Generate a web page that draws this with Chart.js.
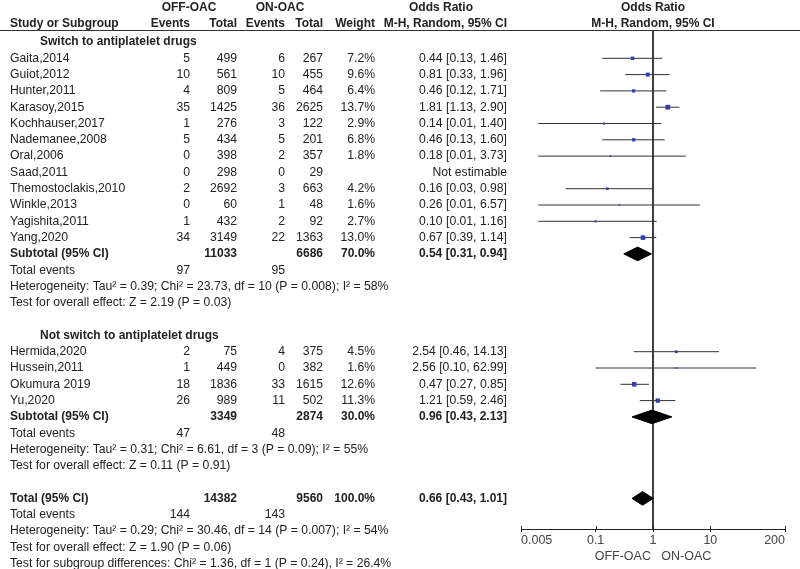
<!DOCTYPE html>
<html>
<head>
<meta charset="utf-8">
<script src="https://cdn.jsdelivr.net/npm/chart.js@4.4.1/dist/chart.umd.min.js"></script>
<style>
  html, body { margin: 0; padding: 0; background: #fff; }
  #wrap { position: relative; width: 800px; height: 569px; }
</style>
</head>
<body>
<div id="wrap"><canvas id="chart"></canvas></div>
<script>
// Individual studies
const studyNames = [
    'Gaita,2014', 'Guiot,2012', 'Hunter,2011', 'Karasoy,2015', 'Kochhauser,2017',
    'Nademanee,2008', 'Oral,2006', 'Saad,2011', 'Themostoclakis,2010', 'Winkle,2013',
    'Yagishita,2011', 'Yang,2020',
    'Hermida,2020', 'Hussein,2011', 'Okumura 2019', 'Yu,2020'
];
const studyGroup = [0, 0, 0, 0, 0, 0, 0, 0, 0, 0, 0, 0, 1, 1, 1, 1];
const offEvents = [5, 10, 4, 35, 1, 5, 0, 0, 2, 0, 1, 34, 2, 1, 18, 26];
const offTotals = [499, 561, 809, 1425, 276, 434, 398, 298, 2692, 60, 432, 3149, 75, 449, 1836, 989];
const onEvents = [6, 10, 5, 36, 3, 5, 2, 0, 3, 1, 2, 22, 4, 0, 33, 11];
const onTotals = [267, 455, 464, 2625, 122, 201, 357, 29, 663, 48, 92, 1363, 375, 382, 1615, 502];
const weights = [7.2, 9.6, 6.4, 13.7, 2.9, 6.8, 1.8, null, 4.2, 1.6, 2.7, 13.0, 4.5, 1.6, 12.6, 11.3];
const oddsRatios = [0.44, 0.81, 0.46, 1.81, 0.14, 0.46, 0.18, null, 0.16, 0.26, 0.10, 0.67, 2.54, 2.56, 0.47, 1.21];
const ciLower = [0.13, 0.33, 0.12, 1.13, 0.01, 0.13, 0.01, null, 0.03, 0.01, 0.01, 0.39, 0.46, 0.10, 0.27, 0.59];
const ciUpper = [1.46, 1.96, 1.71, 2.90, 1.40, 1.60, 3.73, null, 0.98, 6.57, 1.16, 1.14, 14.13, 62.99, 0.85, 2.46];

// Subgroups
const subgroupNames = ['Switch to antiplatelet drugs', 'Not switch to antiplatelet drugs'];
const subgroupOffTotals = [11033, 3349];
const subgroupOnTotals = [6686, 2874];
const subgroupWeights = [70.0, 30.0];
const subgroupOR = [0.54, 0.96];
const subgroupLower = [0.31, 0.43];
const subgroupUpper = [0.94, 2.13];
const subgroupOffEvents = [97, 47];
const subgroupOnEvents = [95, 48];
const subgroupHeterogeneity = [
    'Heterogeneity: Tau² = 0.39; Chi² = 23.73, df = 10 (P = 0.008); I² = 58%',
    'Heterogeneity: Tau² = 0.31; Chi² = 6.61, df = 3 (P = 0.09); I² = 55%'
];
const subgroupEffect = [
    'Test for overall effect: Z = 2.19 (P = 0.03)',
    'Test for overall effect: Z = 0.11 (P = 0.91)'
];

// Overall
const totalOffTotal = 14382;
const totalOnTotal = 9560;
const totalWeight = 100.0;
const totalOR = 0.66;
const totalLower = 0.43;
const totalUpper = 1.01;
const totalOffEvents = 144;
const totalOnEvents = 143;
const totalHeterogeneity = 'Heterogeneity: Tau² = 0.29; Chi² = 30.46, df = 14 (P = 0.007); I² = 54%';
const totalEffect = 'Test for overall effect: Z = 1.90 (P = 0.06)';
const subgroupDifferences = 'Test for subgroup differences: Chi² = 1.36, df = 1 (P = 0.24), I² = 26.4%';

// Axis
const xTicks = [0.005, 0.1, 1, 10, 200];
const xTickLabels = ['0.005', '0.1', '1', '10', '200'];
const xAxisTitle = 'OFF-OAC   ON-OAC';

/**
 * Layout constants (pixels).
 */
const ROW_TOP = 42;
const ROW_H = 16.3;
const AREA_TOP = 30;
const AREA_BOTTOM = 529;
const TEXT_COLOR = '#222';
const FONT = '"Liberation Sans", Arial, sans-serif';

const COLS = {
    study: [10, 'left'],
    heading: [40, 'left'],
    offEvents: [190, 'right'],
    offTotal: [237, 'right'],
    onEvents: [285, 'right'],
    onTotal: [323, 'right'],
    weight: [375, 'right'],
    ratio: [507, 'right']
};

const fmtRatio = (or, lo, hi) => `${or.toFixed(2)} [${lo.toFixed(2)}, ${hi.toFixed(2)}]`;
const fmtWeight = w => w.toFixed(1) + '%';

// Build the table rows (row index -> texts).
const cells = [];
const studyRow = [];
const summaryRows = [];
function cell(row, text, col, bold) {
    cells.push({ row: row, text: String(text), x: COLS[col][0], align: COLS[col][1], bold: !!bold });
}

let r = 0;
subgroupNames.forEach((name, g) => {
    cell(r++, name, 'heading', true);
    studyNames.forEach((study, i) => {
        if (studyGroup[i] !== g) return;
        studyRow[i] = r;
        cell(r, study, 'study');
        cell(r, offEvents[i], 'offEvents');
        cell(r, offTotals[i], 'offTotal');
        cell(r, onEvents[i], 'onEvents');
        cell(r, onTotals[i], 'onTotal');
        if (weights[i] !== null) {
            cell(r, fmtWeight(weights[i]), 'weight');
            cell(r, fmtRatio(oddsRatios[i], ciLower[i], ciUpper[i]), 'ratio');
        } else {
            cell(r, 'Not estimable', 'ratio');
        }
        r++;
    });
    summaryRows.push({ row: r, or: subgroupOR[g], lo: subgroupLower[g], hi: subgroupUpper[g] });
    cell(r, 'Subtotal (95% CI)', 'study', true);
    cell(r, subgroupOffTotals[g], 'offTotal', true);
    cell(r, subgroupOnTotals[g], 'onTotal', true);
    cell(r, fmtWeight(subgroupWeights[g]), 'weight', true);
    cell(r, fmtRatio(subgroupOR[g], subgroupLower[g], subgroupUpper[g]), 'ratio', true);
    r++;
    cell(r, 'Total events', 'study');
    cell(r, subgroupOffEvents[g], 'offEvents');
    cell(r, subgroupOnEvents[g], 'onEvents');
    r++;
    cell(r++, subgroupHeterogeneity[g], 'study');
    cell(r++, subgroupEffect[g], 'study');
    r++;
});
summaryRows.push({ row: r, or: totalOR, lo: totalLower, hi: totalUpper });
cell(r, 'Total (95% CI)', 'study', true);
cell(r, totalOffTotal, 'offTotal', true);
cell(r, totalOnTotal, 'onTotal', true);
cell(r, fmtWeight(totalWeight), 'weight', true);
cell(r, fmtRatio(totalOR, totalLower, totalUpper), 'ratio', true);
r++;
cell(r, 'Total events', 'study');
cell(r, totalOffEvents, 'offEvents');
cell(r, totalOnEvents, 'onEvents');
r++;
cell(r++, totalHeterogeneity, 'study');
cell(r++, totalEffect, 'study');
cell(r++, subgroupDifferences, 'study');

const yMin = (AREA_TOP - ROW_TOP) / ROW_H;
const yMax = (AREA_BOTTOM - ROW_TOP) / ROW_H;

// Datasets
const datasets = [];

const estimable = studyNames.map((s, i) => i).filter(i => oddsRatios[i] !== null);

datasets.push({
    label: 'studies',
    data: estimable.map(i => ({ x: oddsRatios[i], y: studyRow[i] })),
    showLine: false,
    pointStyle: 'rect',
    pointRadius: estimable.map(i => 0.9 * Math.sqrt(weights[i])),
    backgroundColor: '#2f3fb0',
    borderWidth: 0
});

summaryRows.forEach(s => {
    const h = 0.42;
    datasets.push({
        label: 'summary',
        data: [
            { x: s.lo, y: s.row }, { x: s.or, y: s.row - h },
            { x: s.hi, y: s.row }, { x: s.or, y: s.row + h },
            { x: s.lo, y: s.row }
        ],
        fill: 'shape',
        backgroundColor: '#000',
        borderColor: '#000',
        borderWidth: 1,
        pointRadius: 0,
        tension: 0
    });
});

estimable.forEach(i => {
    datasets.push({
        label: 'ci',
        data: [{ x: ciLower[i], y: studyRow[i] }, { x: ciUpper[i], y: studyRow[i] }],
        borderColor: '#333',
        borderWidth: 1,
        pointRadius: 0
    });
});

datasets.push({
    label: 'no effect',
    data: [{ x: 1, y: yMin }, { x: 1, y: yMax }],
    borderColor: '#222',
    borderWidth: 1,
    pointRadius: 0,
    clip: false
});

/**
 * Draws the table texts, the header rule and the upper halves of the axis ticks.
 */
const tablePlugin = {
    id: 'table',
    afterDraw(chart) {
        const ctx = chart.ctx;
        const y = chart.scales.y;
        const x = chart.scales.x;
        ctx.save();
        ctx.fillStyle = TEXT_COLOR;
        ctx.textBaseline = 'middle';

        // header
        const head = (text, px, py, align) => {
            ctx.textAlign = align;
            ctx.fillText(text, px, py);
        };
        ctx.font = `bold 12px ${FONT}`;
        head('OFF-OAC', 189, 8, 'center');
        head('ON-OAC', 280, 8, 'center');
        head('Odds Ratio', 441, 8, 'center');
        head('Odds Ratio', 653, 8, 'center');
        head('Study or Subgroup', 10, 24, 'left');
        head('Events', 190, 24, 'right');
        head('Total', 237, 24, 'right');
        head('Events', 285, 24, 'right');
        head('Total', 323, 24, 'right');
        head('Weight', 375, 24, 'right');
        head('M-H, Random, 95% CI', 507, 24, 'right');
        head('M-H, Random, 95% CI', 653, 24, 'center');

        ctx.strokeStyle = '#333';
        ctx.lineWidth = 1;
        ctx.beginPath();
        ctx.moveTo(0, AREA_TOP + 0.5);
        ctx.lineTo(800, AREA_TOP + 0.5);
        ctx.stroke();

        cells.forEach(c => {
            ctx.font = `${c.bold ? 'bold 12px' : '12.2px'} ${FONT}`;
            ctx.textAlign = c.align;
            ctx.fillText(c.text, c.x, y.getPixelForValue(c.row));
        });

        // tick marks above the axis line
        ctx.strokeStyle = '#222';
        ctx.beginPath();
        xTicks.forEach(v => {
            const px = Math.round(x.getPixelForValue(v)) + 0.5;
            ctx.moveTo(px, chart.chartArea.bottom - 3);
            ctx.lineTo(px, chart.chartArea.bottom);
        });
        ctx.stroke();
        ctx.restore();
    }
};

document.addEventListener('DOMContentLoaded', function() {
    new Chart(document.getElementById('chart').getContext('2d'), {
        type: 'line',
        data: { datasets: datasets },
        plugins: [tablePlugin],
        options: {
            responsive: true,
            maintainAspectRatio: false,
            animation: false,
            layout: { padding: { left: 521, right: 15, top: AREA_TOP, bottom: 0 } },
            plugins: { legend: { display: false }, tooltip: { enabled: false } },
            scales: {
                x: {
                    type: 'logarithmic',
                    position: 'bottom',
                    min: xTicks[0],
                    max: xTicks[xTicks.length - 1],
                    afterBuildTicks: scale => {
                        scale.ticks = xTicks.map(v => ({ value: v }));
                    },
                    afterFit: scale => {
                        scale.height = 569 - AREA_BOTTOM;
                    },
                    ticks: {
                        autoSkip: false,
                        maxRotation: 0,
                        align: 'inner',
                        padding: 1,
                        color: '#444',
                        font: { family: FONT, size: 12.5 },
                        callback: value => xTickLabels[xTicks.indexOf(value)]
                    },
                    grid: { drawOnChartArea: false, drawTicks: true, tickLength: 3, color: '#222' },
                    border: { display: true, color: '#222', width: 1 },
                    title: {
                        display: true,
                        text: xAxisTitle,
                        color: '#444',
                        font: { family: FONT, size: 12.5 },
                        padding: { top: 0, bottom: 5 }
                    }
                },
                y: {
                    type: 'linear',
                    display: false,
                    reverse: true,
                    min: yMin,
                    max: yMax
                }
            }
        }
    });
});
</script>
</body>
</html>
